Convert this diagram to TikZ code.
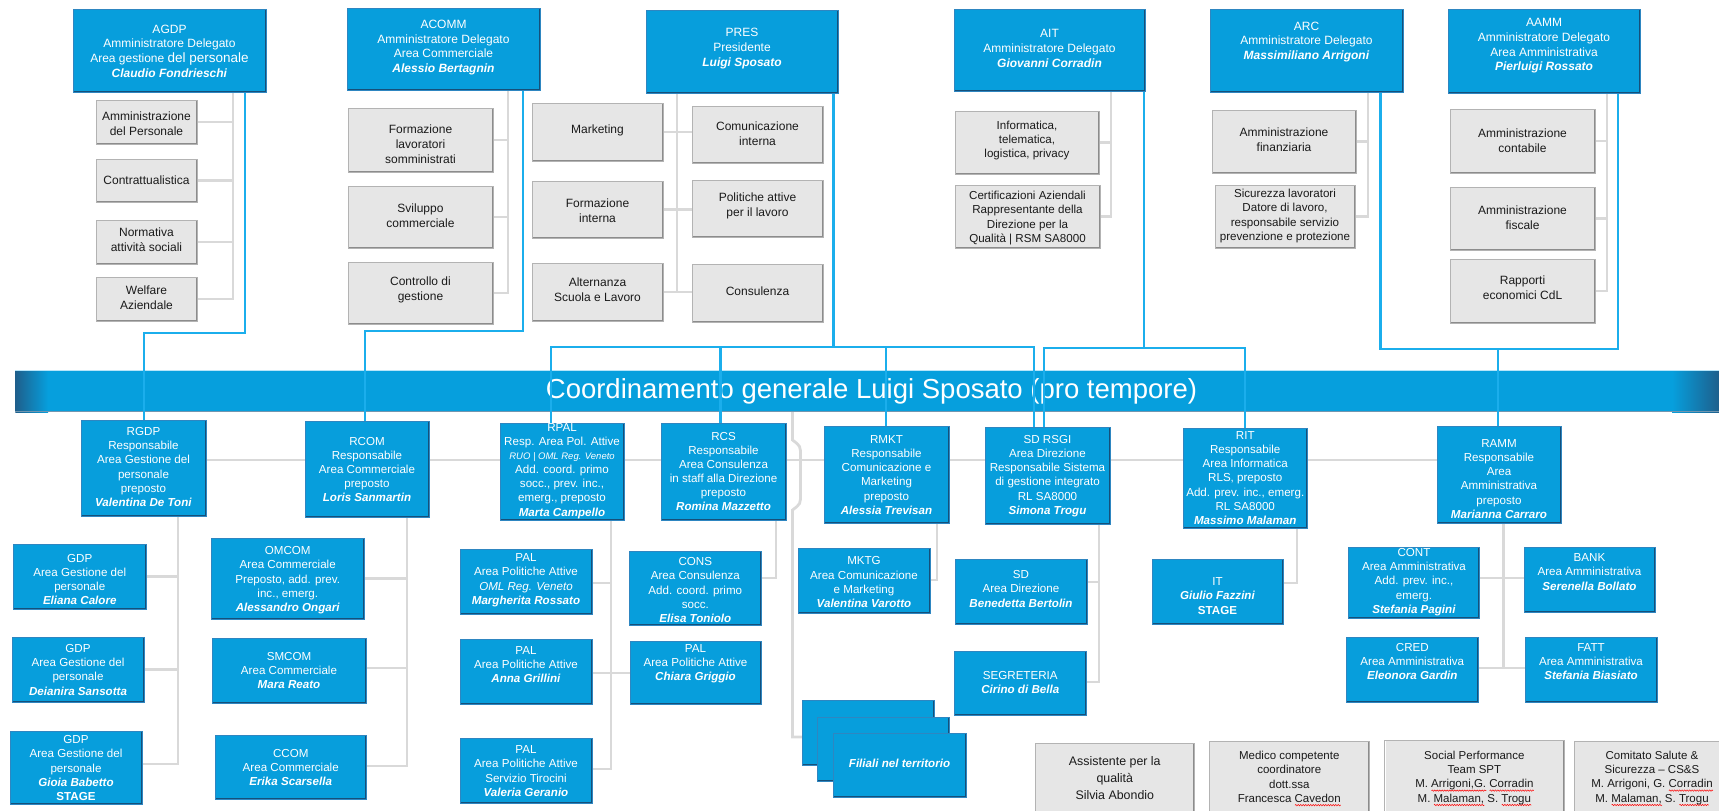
\documentclass[tikz,border=0pt]{standalone}
\usepackage{fontspec}
\setmainfont{Liberation Sans}
\usetikzlibrary{decorations.pathmorphing}
\pgfdeclarelayer{bot}
\pgfdeclarelayer{bg}
\pgfsetlayers{bot,bg,main}
\definecolor{cBlue}{HTML}{079EDC}
\definecolor{cBlueEdge}{HTML}{2E86C1}
\definecolor{cBlueDk}{HTML}{15507A}
\definecolor{cBlueHi}{HTML}{6CCBF2}
\definecolor{cLine}{HTML}{1BAEEC}
\definecolor{cGLine}{HTML}{D9D9D9}
\definecolor{cGFill}{HTML}{E6E6E6}
\definecolor{cGEdge}{HTML}{B3B3B3}
\definecolor{cGDk}{HTML}{8C8C8C}
\definecolor{cBan}{HTML}{069FDD}
\definecolor{cBanDk}{HTML}{1E5F8C}
\definecolor{cTxt}{HTML}{1A1A1A}
\newcommand\rwave[1]{\setbox0\hbox{#1}\rlap{\tikz[baseline=0pt,x=1pt,y=1pt]\draw[red,line width=0.5pt,decorate,decoration={snake,amplitude=0.7pt,segment length=2.5pt}] (0pt,-2.8pt) -- (\the\wd0,-2.8pt);}#1}
\newcommand\pname[1]{\textbf{\textit{#1}}}
\newcommand\Bx[8]{%
  \node[#1, minimum width={(#5)-(#3)}, minimum height={(#6)-(#4)}] (#2) at ({((#3)+(#5))/2},{((#4)+(#6))/2}) {};
  \node[#1txt] (#2-t) at ({((#3)+(#5))/2},{#7}) {#8};}
\tikzset{
 every node/.style={inner sep=0pt, outer sep=0pt},
 blueshape/.style={rectangle, fill=cBlue, draw=cBlueEdge, line width=0.8pt,
   path picture={
     \draw[cBlueHi, line width=2.2pt] (path picture bounding box.north west) -- (path picture bounding box.north east);
     \draw[cBlueDk, line width=2.6pt] (path picture bounding box.south west) -- (path picture bounding box.south east) -- (path picture bounding box.north east);}},
 grayshape/.style={rectangle, fill=cGFill, draw=cGEdge, line width=0.8pt,
   path picture={
     \draw[white, line width=2.2pt] (path picture bounding box.south west) -- (path picture bounding box.north west) -- (path picture bounding box.north east);
     \draw[cGDk, line width=2.6pt] (path picture bounding box.south west) -- (path picture bounding box.south east) -- (path picture bounding box.north east);}},
 tbox/.style={blueshape}, tboxtxt/.style={text=white, align=center, font=\fontsize{12}{14.7}\selectfont},
 mbox/.style={blueshape}, mboxtxt/.style={text=white, align=center, font=\fontsize{11.6}{14.1}\selectfont},
 lbox/.style={blueshape}, lboxtxt/.style={text=white, align=center, font=\fontsize{11.6}{14.3}\selectfont},
 gbox/.style={grayshape}, gboxtxt/.style={text=cTxt, align=center, font=\fontsize{12}{15}\selectfont},
 hbox/.style={grayshape}, hboxtxt/.style={text=cTxt, align=center, font=\fontsize{11.6}{14.4}\selectfont},
 qbox/.style={grayshape}, qboxtxt/.style={text=cTxt, align=center, font=\fontsize{11.5}{14.4}\selectfont},
 abox/.style={grayshape}, aboxtxt/.style={text=cTxt, align=center, font=\fontsize{12.4}{17}\selectfont},
 bline/.style={draw=cLine, line width=2.2pt},
 gline/.style={draw=cGLine, line width=2.8pt},
}
\begin{document}
\begin{tikzpicture}[x=1pt,y=-1pt]
\useasboundingbox (0,0) rectangle (1719,811);
% ---------- top blue boxes
\Bx{tbox}{AGDP}{73}{9}{266}{92}{51}{AGDP\\Amministratore Delegato\\Area gestione {\fontsize{13.5}{14.7}\selectfont del personale}\\\pname{Claudio Fondrieschi}}
\Bx{tbox}{ACOMM}{347}{8}{540}{90}{47.5}{ACOMM\\Amministratore Delegato\\Area Commerciale\\\pname{Alessio Bertagnin}}
\Bx{tbox}{PRES}{646}{10}{838}{93}{48.5}{PRES\\Presidente\\\pname{Luigi Sposato}}
\Bx{tbox}{AIT}{954}{9}{1145}{91}{48.5}{AIT\\Amministratore Delegato\\\pname{Giovanni Corradin}}
\Bx{tbox}{ARC}{1210}{9}{1403}{92}{42}{ARC\\Amministratore Delegato\\\pname{Massimiliano Arrigoni}}
\Bx{tbox}{AAMM}{1448}{9}{1640}{93}{46}{AAMM\\Amministratore Delegato\\Area Amministrativa\\\pname{Pierluigi Rossato}}
% ---------- top gray boxes
\Bx{gbox}{g1}{96}{100}{197}{144}{123.5}{Amministrazione\\del Personale}
\Bx{gbox}{g2}{96}{159}{197}{202}{180}{Contrattualistica}
\Bx{gbox}{g3}{96}{220}{197}{264}{240}{Normativa\\attività sociali}
\Bx{gbox}{g4}{96}{277}{197}{321}{298}{Welfare\\Aziendale}
\Bx{gbox}{g5}{348}{108}{493}{172}{144.5}{Formazione\\lavoratori\\somministrati}
\Bx{gbox}{g6}{348}{186}{493}{248}{216}{Sviluppo\\commerciale}
\Bx{gbox}{g7}{348}{262}{493}{324}{290}{Controllo di\\gestione}
\Bx{gbox}{g8}{532}{103}{663}{161}{130}{Marketing}
\Bx{gbox}{g9}{532}{181}{663}{238}{211}{Formazione\\interna}
\Bx{gbox}{g10}{532}{263}{663}{321}{290}{Alternanza\\Scuola e Lavoro}
\Bx{gbox}{g11}{692}{106}{823}{163}{134}{Comunicazione\\interna}
\Bx{gbox}{g12}{692}{180}{823}{237}{206}{Politiche attive\\per il lavoro}
\Bx{gbox}{g13}{692}{264}{823}{322}{291}{Consulenza}
\Bx{hbox}{g14}{955}{111}{1099}{174}{140.5}{Informatica,\\telematica,\\logistica, privacy}
\Bx{hbox}{g15}{955}{185}{1100}{248}{218}{Certificazioni Aziendali\\Rappresentante della\\Direzione per la\\Qualità | RSM SA8000}
\Bx{gbox}{g16}{1212}{110}{1356}{173}{139.7}{Amministrazione\\finanziaria}
\Bx{hbox}{g17}{1215}{185}{1355}{248}{216}{Sicurezza lavoratori\\Datore di lavoro,\\responsabile servizio\\prevenzione e protezione}
\Bx{gbox}{g18}{1450}{109}{1595}{173}{140.5}{Amministrazione\\contabile}
\Bx{gbox}{g19}{1450}{187}{1595}{250}{218}{Amministrazione\\fiscale}
\Bx{gbox}{g20}{1450}{259}{1595}{323}{288}{Rapporti\\economici CdL}
% ---------- banner
\begin{pgfonlayer}{bot}
\node[fill=cBan, minimum width=1703.6, minimum height=42] (banner) at (867.2,391) {};
\shade[left color=cBanDk, right color=cBan] (15.4,370) rectangle (48,412);
\shade[left color=cBan, right color=cBanDk] (1672,370) rectangle (1719,412);
\draw[cBlueHi!50!white, line width=1pt] (15.4,370.5) -- (1719,370.5);
\draw[cBlueDk!60, line width=1pt] (15.4,411.5) -- (1719,411.5);
\node[text=white, font=\fontsize{27.5}{30}\selectfont] (bannert) at (871.5,391) {Coordinamento generale Luigi Sposato (pro tempore)};
\end{pgfonlayer}
% ---------- middle row
\Bx{mbox}{RGDP}{81}{420}{206}{516}{467}{RGDP\\Responsabile\\Area Gestione del\\personale\\preposto\\\pname{Valentina De Toni}}
\Bx{mbox}{RCOM}{305}{421}{429}{517}{469.5}{RCOM\\Responsabile\\Area Commerciale\\preposto\\\pname{Loris Sanmartin}}
\Bx{mbox}{RPAL}{500}{423}{624}{520}{471}{RPAL\\Resp. Area Pol. Attive\\{\fontsize{9.5}{14}\selectfont\itshape RUO | OML Reg. Veneto}\\Add. coord. primo\\socc., prev. inc.,\\emerg., preposto\\\pname{Marta Campello}}
\Bx{mbox}{RCS}{661}{423}{786}{520}{471.5}{RCS\\Responsabile\\Area Consulenza\\in staff alla Direzione\\preposto\\\pname{Romina Mazzetto}}
\Bx{mbox}{RMKT}{824}{426}{949}{523}{475}{RMKT\\Responsabile\\Comunicazione e\\Marketing\\preposto\\\pname{Alessia Trevisan}}
\Bx{mbox}{SDRSGI}{985}{427}{1110}{524}{476}{SD RSGI\\Area Direzione\\Responsabile Sistema\\di gestione integrato\\RL SA8000\\\pname{Simona Trogu}}
\Bx{mbox}{RIT}{1183.5}{428}{1307}{528}{478}{RIT\\Responsabile\\Area Informatica\\RLS, preposto\\Add. prev. inc., emerg.\\RL SA8000\\\pname{Massimo Malaman}}
\Bx{mbox}{RAMM}{1437}{426}{1561}{523}{479}{RAMM\\Responsabile\\Area\\Amministrativa\\preposto\\\pname{Marianna Carraro}}
% ---------- lower row
\Bx{lbox}{GDP1}{13.5}{544}{146}{609}{579.5}{GDP\\Area Gestione del\\personale\\\pname{Eliana Calore}}
\Bx{lbox}{GDP2}{12}{637}{144}{702}{669.7}{GDP\\Area Gestione del\\personale\\\pname{Deianira Sansotta}}
\Bx{lbox}{GDP3}{10}{731}{142}{804}{768}{GDP\\Area Gestione del\\personale\\\pname{Gioia Babetto}\\\textbf{STAGE}}
\Bx{lbox}{OMCOM}{211}{538}{364.5}{619}{580.3}{OMCOM\\Area Commerciale\\Preposto, add. prev.\\inc., emerg.\\\pname{Alessandro Ongari}}
\Bx{lbox}{SMCOM}{212}{638}{366}{703}{670.5}{SMCOM\\Area Commerciale\\\pname{Mara Reato}}
\Bx{lbox}{CCOM}{215.5}{735}{366}{799}{767.6}{CCOM\\Area Commerciale\\\pname{Erika Scarsella}}
\Bx{lbox}{PAL1}{460}{549}{592}{614}{580.3}{PAL\\Area Politiche Attive\\\textit{OML Reg. Veneto}\\\pname{Margherita Rossato}}
\Bx{lbox}{PAL2}{460}{639}{592}{704}{664.5}{PAL\\Area Politiche Attive\\\pname{Anna Grillini}}
\Bx{lbox}{PAL3}{460}{738}{592}{803}{771}{PAL\\Area Politiche Attive\\Servizio Tirocini\\\pname{Valeria Geranio}}
\Bx{lbox}{CONS}{629.6}{551}{761}{625}{590}{CONS\\Area Consulenza\\Add. coord. primo\\socc.\\\pname{Elisa Toniolo}}
\Bx{lbox}{PCH}{630}{641}{761}{704}{663.8}{PAL\\Area Politiche Attive\\\pname{Chiara Griggio}}
\Bx{lbox}{MKTG}{798}{548}{930}{613}{582.3}{MKTG\\Area Comunicazione\\e Marketing\\\pname{Valentina Varotto}}
\Bx{lbox}{SD}{955}{559}{1087}{624}{589}{SD\\Area Direzione\\\pname{Benedetta Bertolin}}
\Bx{lbox}{SEG}{954.5}{651}{1086}{715}{682.5}{SEGRETERIA\\\pname{Cirino di Bella}}
\Bx{lbox}{IT}{1152}{559}{1283}{624}{596}{IT\\\pname{Giulio Fazzini}\\\textbf{STAGE}}
\Bx{lbox}{CONT}{1348.5}{547}{1479.5}{618}{582}{CONT\\Area Amministrativa\\Add. prev. inc.,\\emerg.\\\pname{Stefania Pagini}}
\Bx{lbox}{BANK}{1524}{547}{1655}{612}{572}{BANK\\Area Amministrativa\\\pname{Serenella Bollato}}
\Bx{lbox}{CRED}{1346.6}{637}{1478}{702}{661.5}{CRED\\Area Amministrativa\\\pname{Eleonora Gardin}}
\Bx{lbox}{FATT}{1525}{637}{1657}{702}{661.5}{FATT\\Area Amministrativa\\\pname{Stefania Biasiato}}
\Bx{lbox}{F1}{802}{700}{934}{765}{732}{}
\Bx{lbox}{F2}{817}{717}{949}{781}{749}{}
\Bx{lbox}{F3}{833}{733}{966}{797}{763}{\pname{Filiali nel territorio}}
% ---------- bottom gray boxes
\Bx{abox}{ASS}{1035}{743}{1194.6}{830}{778}{Assistente per la\\qualità\\Silvia Abondio}
\Bx{qbox}{MED}{1209}{741}{1369.5}{830}{778.5}{Medico competente\\coordinatore\\dott.ssa\\Francesca \rwave{Cavedon}}
\Bx{qbox}{SPT}{1384.7}{740}{1564}{830}{778.3}{Social Performance\\Team SPT\\M. \rwave{Arrigoni,G.} \rwave{Corradin}\\M. \rwave{Malaman,} S. \rwave{Trogu}}
\Bx{qbox}{CSS}{1574}{741}{1730}{830}{778.3}{Comitato Salute \&\\Sicurezza – CS\&S\\M. Arrigoni, G. \rwave{Corradin}\\M. \rwave{Malaman,} S. \rwave{Trogu}}
% ---------- connectors
\begin{pgfonlayer}{bg}
% gray, top
\draw[gline] (AGDP.south -| 233,0) -- (g4.east -| 233,0) -- (g4.east);
\foreach \n in {g1,g2,g3} \draw[gline] (\n.east) -- (\n.east -| 233,0);
\draw[gline] (ACOMM.south -| 508,0) -- (g7.east -| 508,0) -- (g7.east);
\foreach \n in {g5,g6} \draw[gline] (\n.east) -- (\n.east -| 508,0);
\draw[gline] (PRES.south -| 677,0) -- (g10.east -| 677,0);
\draw[gline] (g8.east) -- (g11.west |- g8.east);
\draw[gline] (g9.east) -- (g12.west |- g9.east);
\draw[gline] (g10.east) -- (g13.west |- g10.east);
\draw[gline] (AIT.south -| 1111,0) -- (g15.east -| 1111,0) -- (g15.east);
\draw[gline] (g14.east) -- (g14.east -| 1111,0);
\draw[gline] (ARC.south -| 1368,0) -- (g17.east -| 1368,0) -- (g17.east);
\draw[gline] (g16.east) -- (g16.east -| 1368,0);
\draw[gline] (AAMM.south -| 1607,0) -- (g20.east -| 1607,0) -- (g20.east);
\foreach \n in {g18,g19} \draw[gline] (\n.east) -- (\n.east -| 1607,0);
% gray, middle and lower
\draw[gline] (RGDP.east |- 0,460) -- (RAMM.west |- 0,460);
\draw[gline] (RGDP.south -| 178,0) -- (178,764) -- (GDP3.east |- 0,764);
\draw[gline] (GDP1.east) -- (GDP1.east -| 178,0);
\draw[gline] (GDP2.east) -- (GDP2.east -| 178,0);
\draw[gline] (RCOM.south -| 407,0) -- (407,766) -- (CCOM.east |- 0,766);
\draw[gline] (OMCOM.east) -- (OMCOM.east -| 407,0);
\draw[gline] (SMCOM.east |- 0,668) -- (407,668);
\draw[gline] (RPAL.south -| 611,0) -- (611,769) -- (PAL3.east |- 0,769);
\draw[gline] (PAL1.east |- 0,583) -- (611,583);
\draw[gline] (PAL2.east |- 0,673) -- (PCH.west |- 0,673);
\draw[gline] (RCS.south -| 776,0) -- (776,578) -- (CONS.east |- 0,578);
\draw[gline] (banner.south -| 792.5,0) -- (792.5,440) .. controls (800.5,446) .. (800.5,456) -- (800.5,494) .. controls (800.5,504) .. (792.5,510) -- (792.5,737) -- (F1.west |- 0,737);
\draw[gline] (RMKT.south -| 937,0) -- (937,580) -- (MKTG.east |- 0,580);
\draw[gline] (SDRSGI.south -| 1099,0) -- (1099,682) -- (SEG.east |- 0,682);
\draw[gline] (SD.east |- 0,582) -- (1099,582);
\draw[gline] (RIT.south -| 1297,0) -- (1297,583) -- (IT.east |- 0,583);
\draw[gline] (RAMM.south -| 1503.5,0) -- (1503.5,668);
\draw[gline] (CONT.east |- 0,578) -- (BANK.west |- 0,578);
\draw[gline] (CRED.east |- 0,668) -- (FATT.west |- 0,668);
% blue
\coordinate (jPres) at (833.5,347);
\coordinate (jAit) at (1144,348);
\coordinate (jAmm) at (1498,349);
\draw[bline] (AGDP.south -| 245,0) -- (245,333) -- (144,333) -- (RGDP.north -| 144,0);
\draw[bline] (ACOMM.south -| 522.7,0) -- (522.7,331) -- (365,331) -- (RCOM.north -| 365,0);
\draw[bline] (PRES.south -| 833.5,0) -- (jPres);
\draw[bline] (RPAL.north -| 551,0) -- (551,347) -- (1034,347) -- (SDRSGI.north -| 1034,0);
\draw[bline] (720.5,347) -- (RCS.north -| 720.5,0);
\draw[bline] (886,347) -- (RMKT.north -| 886,0);
\draw[bline] (AIT.south -| 1144,0) -- (jAit);
\draw[bline] (SDRSGI.north -| 1044,0) -- (1044,348) -- (1245,348) -- (RIT.north -| 1245,0);
\draw[bline] (ARC.south -| 1380.5,0) -- (1380.5,349) -- (1618,349) -- (AAMM.south -| 1618,0);
\draw[bline] (jAmm) -- (RAMM.north -| 1498,0);
\end{pgfonlayer}
\end{tikzpicture}
\end{document}
